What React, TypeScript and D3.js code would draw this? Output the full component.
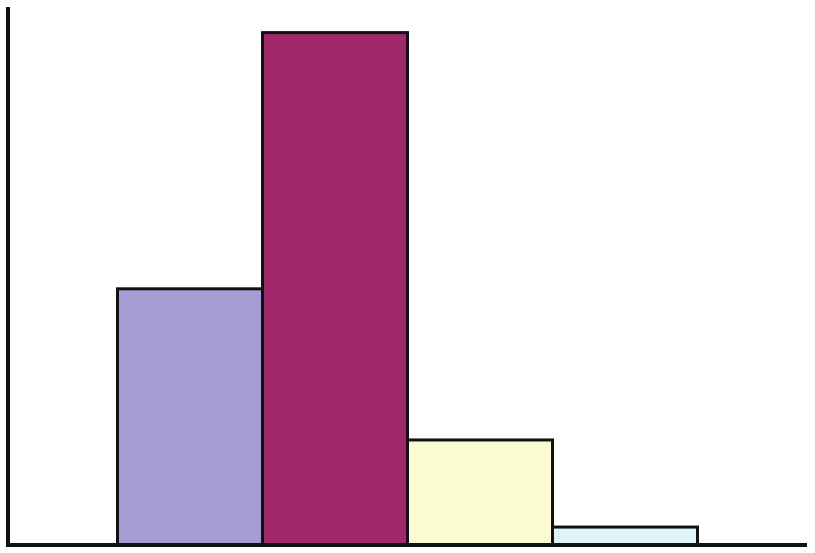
import React from "react";
import * as d3 from "d3";

const categories = ["A", "B", "C", "D"];
const values = [50, 100, 20.5, 3.5];
const colors = ["#a59dd4", "#a0296c", "#fafbd2", "#dff4f7"];

const W = 815;
const H = 553;

export default function App() {
  const x = d3.scaleBand<string>().domain(categories).range([117.5, 697.5]).paddingInner(0).paddingOuter(0);
  const y = d3.scaleLinear().domain([0, 105]).range([545, 7]);
  return (
    <svg width={W} height={H} style={{ position: "absolute", left: 0, top: 0, background: "#fff" }}>
      {categories.map((c, i) => (
        <rect
          key={c}
          x={x(c)}
          y={y(values[i])}
          width={x.bandwidth()}
          height={y(0) - y(values[i])}
          fill={colors[i]}
          stroke="#111"
          strokeWidth={3}
        />
      ))}
      <line x1={8} y1={y(105)} x2={8} y2={y(0)} stroke="#111" strokeWidth={4} />
      <line x1={6} y1={y(0)} x2={807} y2={y(0)} stroke="#111" strokeWidth={4} />
    </svg>
  );
}
